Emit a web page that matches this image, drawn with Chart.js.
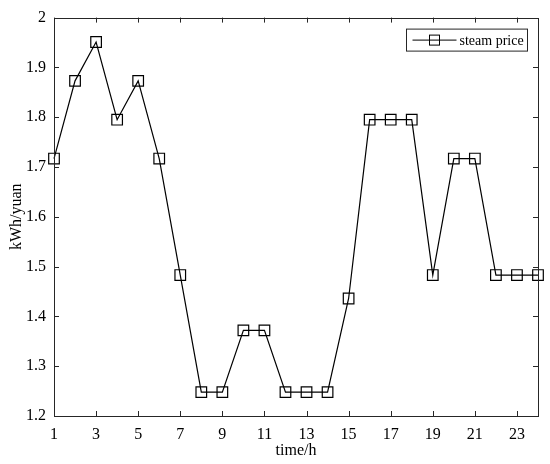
<!DOCTYPE html>
<html>
<head>
<meta charset="utf-8">
<script src="https://cdn.jsdelivr.net/npm/chart.js@4.4.0/dist/chart.umd.min.js"></script>
<style>
  html, body { margin: 0; padding: 0; background: #fff; }
  #wrap { width: 550px; height: 464px; }
</style>
</head>
<body>
<div id="wrap"><canvas id="priceChart"></canvas></div>
<script>
  // hourly steam price
  const hours = [1, 2, 3, 4, 5, 6, 7, 8, 9, 10, 11, 12, 13, 14, 15, 16, 17, 18, 19, 20, 21, 22, 23, 24];
  const steamPrice = [1.717, 1.873, 1.951, 1.795, 1.873, 1.717, 1.483, 1.248, 1.248, 1.372, 1.372, 1.248,
                      1.248, 1.248, 1.436, 1.795, 1.795, 1.795, 1.483, 1.717, 1.717, 1.483, 1.483, 1.483];
  const xTicks = [1, 3, 5, 7, 9, 11, 13, 15, 17, 19, 21, 23];
  const yTicks = [1.2, 1.3, 1.4, 1.5, 1.6, 1.7, 1.8, 1.9, 2];

  const axisColor = '#262626';
  const serif = '"Liberation Serif", "Times New Roman", serif';

  // MATLAB style box: frame, inward ticks on all four sides, boxed legend
  const matlabBox = {
    id: 'matlabBox',
    afterDatasetsDraw: function(chart) {
      const ctx = chart.ctx;
      const a = chart.chartArea;
      const xs = chart.scales.x, ys = chart.scales.y;
      const len = 5;
      ctx.save();
      ctx.strokeStyle = axisColor;
      ctx.lineWidth = 1;
      ctx.beginPath();
      xTicks.forEach(v => {
        const px = Math.round(xs.getPixelForValue(v)) + 0.5;
        ctx.moveTo(px, a.bottom); ctx.lineTo(px, a.bottom - len);
        ctx.moveTo(px, a.top); ctx.lineTo(px, a.top + len);
      });
      yTicks.forEach(v => {
        const py = Math.round(ys.getPixelForValue(v)) + 0.5;
        ctx.moveTo(a.left, py); ctx.lineTo(a.left + len, py);
        ctx.moveTo(a.right, py); ctx.lineTo(a.right - len, py);
      });
      ctx.stroke();
      ctx.strokeRect(Math.round(a.left) + 0.5, Math.round(a.top) + 0.5,
                     Math.round(a.right - a.left), Math.round(a.bottom - a.top));

      // legend
      const ds = chart.data.datasets[0];
      const bx = a.right - 131.5, by = a.top + 11.5, bw = 121, bh = 22;
      ctx.fillStyle = '#fff';
      ctx.fillRect(bx, by, bw, bh);
      ctx.strokeStyle = axisColor;
      ctx.strokeRect(bx, by, bw, bh);
      const cy = by + bh / 2;
      ctx.strokeStyle = '#000';
      ctx.beginPath();
      ctx.moveTo(bx + 6, cy); ctx.lineTo(bx + 50, cy);
      ctx.stroke();
      ctx.strokeRect(bx + 23, cy - 5, 10, 10);
      ctx.fillStyle = '#000';
      ctx.font = '14px ' + serif;
      ctx.textBaseline = 'middle';
      ctx.fillText(ds.label, bx + 53, cy + 1);
      ctx.restore();
    }
  };

  new Chart(document.getElementById('priceChart'), {
    type: 'line',
    data: {
      datasets: [{
        label: 'steam price',
        data: hours.map((h, i) => ({ x: h, y: steamPrice[i] })),
        borderColor: '#000',
        borderWidth: 1.2,
        pointStyle: 'rect',
        pointRadius: 7.5,
        pointBorderWidth: 1.2,
        pointBorderColor: '#000',
        pointBackgroundColor: 'rgba(0,0,0,0)',
        tension: 0,
        fill: false,
        clip: false
      }]
    },
    options: {
      responsive: true,
      maintainAspectRatio: false,
      animation: false,
      devicePixelRatio: 1,
      layout: { padding: { top: 13, right: 12, left: 7, bottom: 0 } },
      plugins: {
        legend: { display: false },
        tooltip: { enabled: false }
      },
      scales: {
        x: {
          type: 'linear',
          min: 1,
          max: 24,
          afterBuildTicks: s => { s.ticks = xTicks.map(v => ({ value: v })); },
          afterFit: s => { s.height = 48; },
          grid: { display: false, drawTicks: false },
          border: { display: false },
          ticks: { color: '#000', font: { family: serif, size: 16 }, padding: 9, maxRotation: 0 },
          title: { display: true, text: 'time/h', color: '#000', font: { family: serif, size: 16 }, padding: { top: 3 } }
        },
        y: {
          min: 1.2,
          max: 2,
          afterBuildTicks: s => { s.ticks = yTicks.map(v => ({ value: v })); },
          afterFit: s => { s.width = 47; },
          grid: { display: false, drawTicks: false },
          border: { display: false },
          ticks: {
            color: '#000',
            font: { family: serif, size: 16 },
            padding: 8,
            callback: v => String(Math.round(v * 10) / 10)
          },
          title: { display: true, text: 'kWh/yuan', color: '#000', font: { family: serif, size: 16 }, padding: { top: 0, bottom: 0 } }
        }
      }
    },
    plugins: [matlabBox]
  });
</script>
</body>
</html>
